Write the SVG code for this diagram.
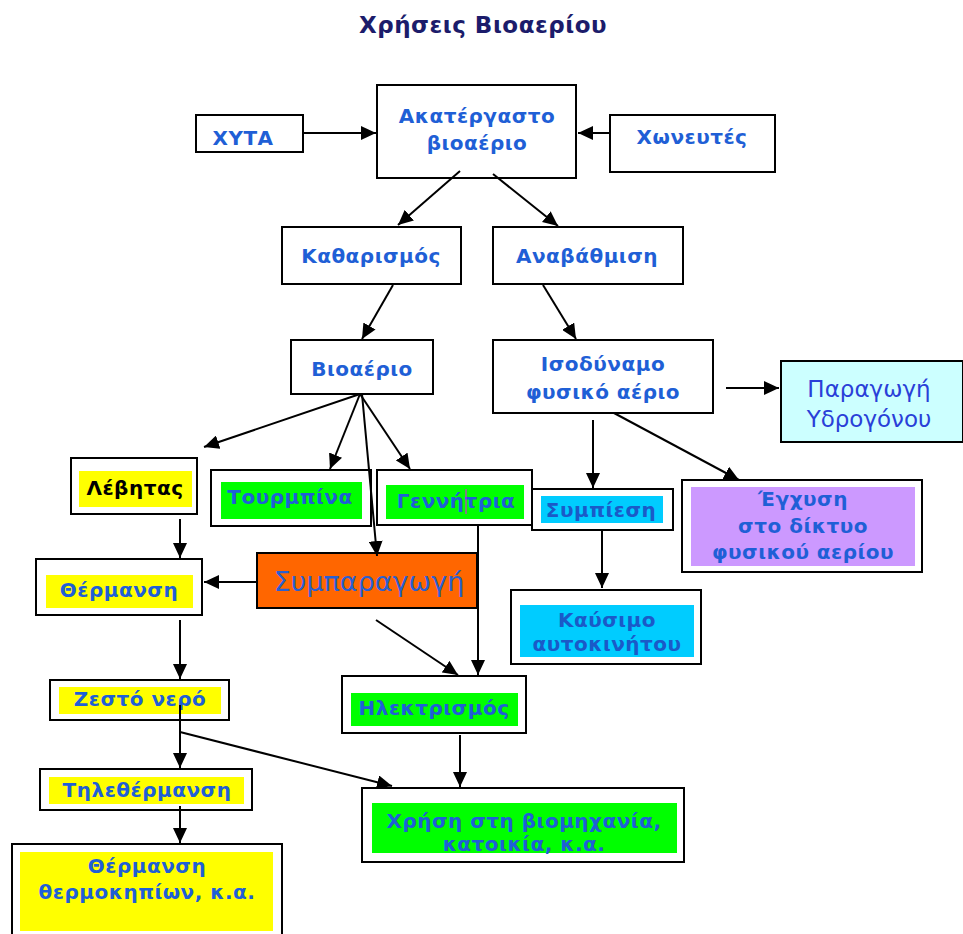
<svg xmlns="http://www.w3.org/2000/svg" width="963" height="934" viewBox="0 0 963 934">
<defs>
<marker id="ah" markerUnits="userSpaceOnUse" markerWidth="16" markerHeight="14" refX="15" refY="7" orient="auto">
<path d="M0,0 L15,7 L0,14 z" fill="#000"/>
</marker>
<style>
.box{fill:#fff;stroke:#000;stroke-width:2}
.t{font-family:"DejaVu Sans",Verdana,sans-serif;font-weight:bold;font-size:20px;letter-spacing:0.5px;fill:#1f5fd6;text-anchor:middle}
.r{font-family:"DejaVu Sans",Verdana,sans-serif;font-size:23px;fill:#2a3fd8;text-anchor:middle}
.c line{stroke:#000;stroke-width:2;fill:none;marker-end:url(#ah)}
.y{fill:#ffff00}.g{fill:#00ff00}.cy{fill:#00ccff}.p{fill:#cc99ff}
</style>
</defs>
<rect width="963" height="934" fill="#fff"/>
<text x="483" y="33" style="font-family:'DejaVu Sans',Verdana,sans-serif;font-weight:bold;font-size:23px;letter-spacing:0.5px;fill:#1c1c6b;text-anchor:middle">Χρήσεις Βιοαερίου</text>

<g id="xyta"><rect class="box" x="196" y="115" width="107" height="37"/><text class="t" x="243" y="145">ΧΥΤΑ</text></g>
<g id="akat"><rect class="box" x="377" y="85" width="199" height="93"/><text class="t" x="477" y="123">Ακατέργαστο</text><text class="t" x="477" y="150">βιοαέριο</text></g>
<g id="xoneutes"><rect class="box" x="610" y="115" width="165" height="57"/><text class="t" x="692" y="144">Χωνευτές</text></g>
<g id="katharismos"><rect class="box" x="282" y="227" width="179" height="57"/><text class="t" x="371" y="263">Καθαρισμός</text></g>
<g id="anavathmisi"><rect class="box" x="493" y="227" width="190" height="57"/><text class="t" x="587" y="263">Αναβάθμιση</text></g>
<g id="vioaerio"><rect class="box" x="291" y="340" width="142" height="54"/><text class="t" x="362" y="376">Βιοαέριο</text></g>
<g id="isodynamo"><rect class="box" x="493" y="340" width="220" height="73"/><text class="t" x="603" y="371">Ισοδύναμο</text><text class="t" x="603" y="399">φυσικό αέριο</text></g>
<g id="ydrogono"><rect x="781" y="361" width="182" height="81" fill="#ccffff" stroke="#000" stroke-width="2"/><text class="r" x="869" y="397">Παραγωγή</text><text class="r" x="869" y="427">Υδρογόνου</text></g>
<g id="levitas"><rect class="box" x="71" y="458" width="126" height="56"/><rect class="y" x="79" y="471" width="113" height="36"/><text class="t" x="135" y="495" style="fill:#000">Λέβητας</text></g>
<g id="tourmpina"><rect class="box" x="211" y="470" width="160" height="56"/><rect class="g" x="221" y="482" width="141" height="37"/><text class="t" x="290" y="504">Τουρμπίνα</text></g>
<g id="gennitria"><rect class="box" x="377" y="470" width="155" height="55"/><rect class="g" x="386" y="485" width="138" height="34"/><text class="t" x="456" y="508">Γεννήτρια</text><line x1="466" y1="489" x2="466" y2="514" stroke="#ff00ff" stroke-width="1"/></g>
<g id="sympiesi"><rect class="box" x="532" y="489" width="141" height="41"/><rect class="cy" x="541" y="496" width="122" height="27"/><text class="t" x="601" y="517" style="fill:#1a5ac8">Συμπίεση</text></g>
<g id="egxysi"><rect class="box" x="682" y="480" width="240" height="92"/><rect class="p" x="691" y="487" width="224" height="79"/><text class="t" x="803" y="506">Έγχυση</text><text class="t" x="803" y="533">στο δίκτυο</text><text class="t" x="803" y="559">φυσικού αερίου</text></g>
<g id="thermansi"><rect class="box" x="36" y="559" width="166" height="56"/><rect class="y" x="46" y="575" width="147" height="33"/><text class="t" x="119" y="597">Θέρμανση</text></g>
<g id="symparagogi"><rect x="257" y="553" width="220" height="55" fill="#ff6600" stroke="#000" stroke-width="2"/><text class="r" x="369" y="591" style="fill:#2a5fd0;font-size:27px">Συμπαραγωγή</text></g>
<g id="kaysimo"><rect class="box" x="511" y="590" width="190" height="74"/><rect class="cy" x="520" y="605" width="174" height="52"/><text class="t" x="607" y="627" style="fill:#1a5ac8">Καύσιμο</text><text class="t" x="607" y="651" style="fill:#1a5ac8">αυτοκινήτου</text></g>
<g id="zesto"><rect class="box" x="50" y="680" width="179" height="40"/><rect class="y" x="59" y="687" width="162" height="27"/><text class="t" x="140" y="706">Ζεστό νερό</text></g>
<g id="ilektrismos"><rect class="box" x="342" y="676" width="184" height="57"/><rect class="g" x="351" y="693" width="167" height="33"/><text class="t" x="434" y="715">Ηλεκτρισμός</text></g>
<g id="tilethermansi"><rect class="box" x="40" y="769" width="212" height="41"/><rect class="y" x="49" y="777" width="195" height="27"/><text class="t" x="147" y="797">Τηλεθέρμανση</text></g>
<g id="xrisi"><rect class="box" x="362" y="788" width="322" height="74"/><rect class="g" x="372" y="803" width="305" height="50"/><text class="t" x="524" y="828">Χρήση στη βιομηχανία,</text><text class="t" x="524" y="851">κατοικία, κ.α.</text></g>
<g id="thermokipia"><rect class="box" x="12" y="844" width="270" height="96"/><rect class="y" x="20" y="852" width="253" height="79"/><text class="t" x="147" y="873">Θέρμανση</text><text class="t" x="147" y="899">θερμοκηπίων, κ.α.</text></g>

<g id="connectors" class="c">
<line x1="304" y1="133" x2="376" y2="133"/>
<line x1="609" y1="133" x2="578" y2="133"/>
<line x1="460" y1="171" x2="398" y2="225"/>
<line x1="493" y1="174" x2="558" y2="226"/>
<line x1="393" y1="285" x2="362" y2="339"/>
<line x1="543" y1="285" x2="576" y2="339"/>
<line x1="726" y1="388" x2="779" y2="388"/>
<line x1="360" y1="394" x2="204" y2="447"/>
<line x1="360" y1="394" x2="330" y2="469"/>
<line x1="360" y1="394" x2="410" y2="469"/>
<line x1="362" y1="394" x2="377" y2="556"/>
<line x1="593" y1="420" x2="593" y2="488"/>
<line x1="614" y1="413" x2="739" y2="480"/>
<line x1="180" y1="519" x2="180" y2="558"/>
<line x1="478" y1="525" x2="478" y2="675"/>
<line x1="257" y1="582" x2="204" y2="582"/>
<line x1="602" y1="531" x2="602" y2="588"/>
<line x1="376" y1="620" x2="458" y2="675"/>
<line x1="180" y1="620" x2="180" y2="679"/>
<line x1="180" y1="705" x2="180" y2="768"/>
<line x1="180" y1="732" x2="392" y2="786"/>
<line x1="460" y1="735" x2="460" y2="787"/>
<line x1="180" y1="806" x2="180" y2="843"/>
</g>
</svg>
